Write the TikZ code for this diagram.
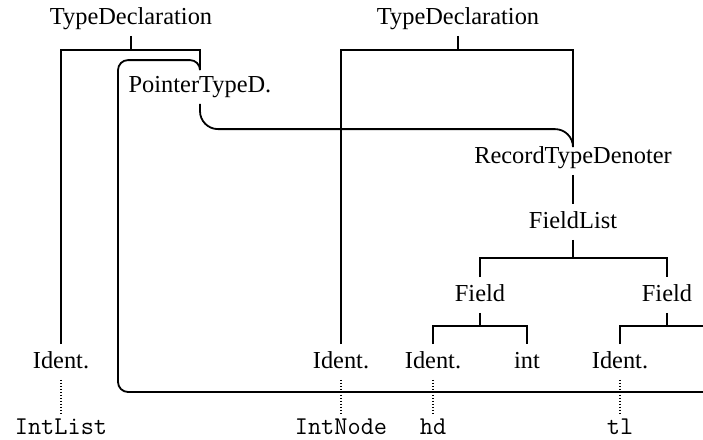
\documentclass[tikz,border=0pt]{standalone}
\usepackage{fontspec}
\setmainfont{Liberation Serif}
\usetikzlibrary{positioning}

\begin{document}
\begin{tikzpicture}[
    x=0.5pt, y=-0.5pt,
    line width=0.9pt,
    lbl/.style={inner xsep=1pt, inner ysep=3pt, text height=8.5pt, text depth=2.5pt,
      font=\fontsize{12.2pt}{14pt}\selectfont},
    code/.style={inner xsep=1pt, inner ysep=2pt, text height=7pt, text depth=1pt,
      font=\fontsize{12.8pt}{14pt}\selectfont\ttfamily},
    ref/.style={line width=0.6pt, dash pattern=on 0.6pt off 0.9pt}
  ]
    \useasboundingbox (0,0) rectangle (703,440);
    \coordinate (rim) at (703,0);

    % declarations
    \node[lbl] (td1) at (131,18) {TypeDeclaration};
    \node[lbl] (td2) at (458,18) {TypeDeclaration};
    \node[lbl] (ptr) at (200,86) {PointerTypeD.};
    \node[lbl] (rec) at (573,157) {RecordTypeDenoter};
    \node[lbl] (fl) at (573,222) {FieldList};
    \node[lbl] (fd1) at (480,295) {Field};
    \node[lbl] (fd2) at (667,295) {Field};

    % leaves
    \node[lbl] (id1) at (61,362) {Ident.};
    \node[lbl] (id2) at (341,362) {Ident.};
    \node[lbl] (id3) at (433,362) {Ident.};
    \node[lbl] (int) at (527,362) {int};
    \node[lbl] (id4) at (620,362) {Ident.};

    \node[code] (intlist) at (61,428) {IntList};
    \node[code] (intnode) at (341,428) {IntNode};
    \node[code] (hd) at (433,428) {hd};
    \node[code] (tl) at (620,428) {tl};

    % tree forks
    \draw (td1.south) -- ++(0,14) coordinate (td1j);
    \draw (id1.north) |- (td1j) -| (ptr.north);
    \draw (td2.south) -- ++(0,14) coordinate (td2j);
    \draw (id2.north) |- (td2j) -| (rec.north);
    \draw (rec.south) -- (fl.north);
    \draw (fl.south) -- ++(0,18) coordinate (flj);
    \draw (fd1.north) |- (flj) -| (fd2.north);
    \draw (fd1.south) -- ++(0,13) coordinate (fd1j);
    \draw (id3.north) |- (fd1j) -| (int.north);
    \draw (fd2.south) -- ++(0,13) coordinate (fd2j);
    \draw (id4.north) |- (fd2j) -- (fd2j -| rim);

    % type references
    \draw[rounded corners=9pt] (ptr.south) |- ([yshift=5pt]rec.north) -- (rec.north);
    \coordinate (bot) at (118,392);
    \draw[rounded corners=5pt] (ptr.north) |- ++(-82,-8) |- (bot -| rim);

    % identifier names
    \draw[ref] (id1.south) -- (intlist.north);
    \draw[ref] (id2.south) -- (intnode.north);
    \draw[ref] (id3.south) -- (hd.north);
    \draw[ref] (id4.south) -- (tl.north);
  \end{tikzpicture}
\end{document}
